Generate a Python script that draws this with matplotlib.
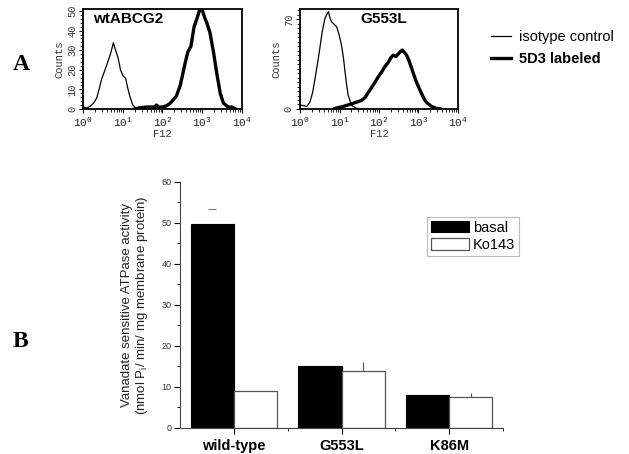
import numpy as np
import matplotlib
matplotlib.use("Agg")
import matplotlib.pyplot as plt
from matplotlib.ticker import FixedLocator, MultipleLocator, LogLocator, NullFormatter

# ---------------- data ----------------
# Flow cytometry histograms (x as log10 of F12 fluorescence, y = counts)
wt_iso_log = [0.0, 0.08, 0.17, 0.26, 0.34, 0.40, 0.46, 0.55, 0.63, 0.70, 0.76, 0.80, 0.88,
              0.94, 1.00, 1.07, 1.12, 1.17, 1.25, 1.33, 1.45, 1.6, 1.8, 2.0, 2.2]
wt_iso_cnt = [1, 0.5, 1.3, 3, 5.6, 10, 15, 20, 24.6, 29, 33.8, 31, 26,
              20, 17, 15.6, 11, 7, 2, 0.5, 0, 0.5, 0.3, 0.5, 0]
wt_5d3_log = [1.3, 1.4, 1.6, 1.8, 1.85, 1.9, 2.0, 2.11, 2.2, 2.35, 2.45, 2.52, 2.58, 2.64,
              2.72, 2.8, 2.87, 2.93, 3.0, 3.06, 3.12, 3.2, 3.29, 3.37, 3.46, 3.54, 3.66,
              3.75, 3.85]
wt_5d3_cnt = [0, 0.5, 1, 1, 2, 1, 1, 1.7, 3, 6.5, 12, 18.5, 24, 29,
              32, 42, 46, 50, 51, 47, 44, 39, 29, 18.5, 8, 3, 1,
              1, 0]
mut_iso_log = [0.0, 0.08, 0.17, 0.25, 0.32, 0.38, 0.44, 0.5, 0.56, 0.63, 0.68, 0.72, 0.76,
               0.8, 0.87, 0.93, 0.99, 1.05, 1.1, 1.14, 1.18, 1.22, 1.31, 1.43, 1.6]
mut_iso_cnt = [3, 2.7, 2, 5.3, 13, 23.7, 35, 47, 60, 70.6, 74, 76, 71,
               68, 66, 64, 58, 50, 40, 29, 19, 10.6, 2.7, 0.5, 0]
mut_5d3_log = [0.89, 1.1, 1.31, 1.45, 1.56, 1.65, 1.73, 1.82, 1.9, 1.98, 2.07, 2.15, 2.24,
               2.30, 2.36, 2.43, 2.49, 2.55, 2.59, 2.65, 2.7, 2.77, 2.83, 2.89, 2.95, 3.02,
               3.08, 3.14, 3.2, 3.27, 3.33, 3.45, 3.55]
mut_5d3_cnt = [0.5, 2, 4, 5.5, 6.7, 9, 13, 17, 21, 25, 29, 33, 36.7,
               40, 42, 41, 43, 45, 46, 44, 42, 37, 31.5, 26, 21, 16,
               12, 8, 5.3, 3.5, 2, 0.5, 0]
hist_titles = ["wtABCG2", "G553L"]
hist_legend = ["isotype control", "5D3 labeled"]
decade_labels = [r"$\mathregular{10^{0}}$", r"$\mathregular{10^{1}}$", r"$\mathregular{10^{2}}$",
                 r"$\mathregular{10^{3}}$", r"$\mathregular{10^{4}}$"]

# ATPase bar chart
groups = ["wild-type", "G553L", "K86M"]
basal = [49.7, 15.1, 8.0]
basal_err = [3.8, 0.0, 0.0]
ko143 = [9.0, 13.8, 7.6]
ko143_err = [0.0, 2.4, 0.9]
series_names = ["basal", "Ko143"]

# ---------------- figure ----------------
fig = plt.figure(figsize=(6.29, 4.54), dpi=100)
mono = "Liberation Mono"
sans = "Liberation Sans"

def hist_axes(rect, iso_log, iso_cnt, l5_log, l5_cnt, ymax, ymajor, yminor, title, title_x):
    ax = fig.add_axes(rect)
    l1, = ax.plot(10 ** np.array(iso_log), iso_cnt, color="black", lw=0.9)
    l2, = ax.plot(10 ** np.array(l5_log), l5_cnt, color="black", lw=2.4)
    ax.set_xscale("log")
    ax.set_xlim(1, 1e4)
    ax.set_ylim(0, ymax)
    ax.xaxis.set_major_locator(FixedLocator([1, 10, 100, 1000, 10000]))
    ax.set_xticklabels(decade_labels, fontfamily=mono, fontsize=8, color="#222222")
    ax.xaxis.set_minor_locator(LogLocator(base=10, subs=np.arange(2, 10), numticks=20))
    ax.xaxis.set_minor_formatter(NullFormatter())
    ax.yaxis.set_major_locator(FixedLocator(ymajor))
    ax.yaxis.set_minor_locator(MultipleLocator(yminor))
    for lab in ax.get_yticklabels():
        lab.set_fontfamily(mono)
        lab.set_fontsize(7.5)
        lab.set_rotation(90)
        lab.set_va("center")
        lab.set_color("#333333")
    ax.tick_params(axis="both", which="major", direction="out", length=3, width=0.8, pad=1.5)
    ax.tick_params(axis="both", which="minor", direction="out", length=2, width=0.6)
    for s in ax.spines.values():
        s.set_linewidth(1.3)
    ax.set_xlabel("F12", fontfamily=mono, fontsize=7.5, labelpad=0, color="#333333")
    ax.set_ylabel("Counts", fontfamily=mono, fontsize=7.5, labelpad=2, color="#333333")
    ax.text(title_x, 0.9, title, transform=ax.transAxes, fontfamily=sans,
            fontweight="bold", fontsize=11, ha="left", va="center")
    return ax, l1, l2

ax1, h1, h2 = hist_axes([0.1324, 0.760, 0.2517, 0.220], wt_iso_log, wt_iso_cnt,
                        wt_5d3_log, wt_5d3_cnt, 51, [0, 10, 20, 30, 40, 50], 2,
                        hist_titles[0], 0.06)
ax2, _, _ = hist_axes([0.477, 0.760, 0.251, 0.220], mut_iso_log, mut_iso_cnt,
                      mut_5d3_log, mut_5d3_cnt, 78, [0, 70], 3.5,
                      hist_titles[1], 0.38)

leg1 = fig.legend([h1, h2], hist_legend, loc="upper left", bbox_to_anchor=(0.759, 0.962),
                  frameon=False, handlelength=1.4, handletextpad=0.55, labelspacing=0.5,
                  prop={"family": sans, "size": 10.5})
leg1.get_texts()[1].set_fontweight("bold")

fig.text(0.02, 0.858, "A", fontfamily="Liberation Serif", fontweight="bold", fontsize=17,
         ha="left", va="center")
fig.text(0.02, 0.247, "B", fontfamily="Liberation Serif", fontweight="bold", fontsize=17,
         ha="left", va="center")

# bar chart
axb = fig.add_axes([0.2862, 0.0573, 0.5135, 0.5419])
x = np.arange(1, len(groups) + 1)
w = 0.4
b1 = axb.bar(x - w / 2, basal, width=w, color="black", edgecolor="black", linewidth=0.8,
             label=series_names[0])
b2 = axb.bar(x + w / 2, ko143, width=w, color="white", edgecolor="#555555", linewidth=0.9,
             label=series_names[1])
be = np.array(basal_err)
ke = np.array(ko143_err)
mb = be > 0
mk = ke > 0
eb1 = axb.errorbar((x - w / 2)[mb], np.array(basal)[mb], yerr=[np.zeros(mb.sum()), be[mb]],
                   fmt="none", ecolor="#777777", elinewidth=0, capsize=3, capthick=0.8)
# hide the zero-length lower cap (sits on top of the bar)
for cl in eb1[1]:
    if np.allclose(cl.get_ydata(), np.array(basal)[mb]):
        cl.set_visible(False)
axb.errorbar((x + w / 2)[mk], np.array(ko143)[mk], yerr=[np.zeros(mk.sum()), ke[mk]],
             fmt="none", ecolor="#555555", elinewidth=0.8, capsize=0)
axb.set_xlim(0.5, 3.5)
axb.set_ylim(0, 60)
axb.set_xticks(x)
axb.set_xticklabels(groups, fontfamily=sans, fontweight="bold", fontsize=10.5)
axb.xaxis.set_minor_locator(FixedLocator([1.5, 2.5, 3.5]))
axb.yaxis.set_major_locator(MultipleLocator(10))
axb.yaxis.set_minor_locator(MultipleLocator(5))
for lab in axb.get_yticklabels():
    lab.set_fontfamily(sans)
    lab.set_fontsize(6.5)
    lab.set_color("#333333")
axb.tick_params(axis="both", which="major", direction="out", length=4, width=0.8, pad=2)
axb.tick_params(axis="both", which="minor", direction="out", length=2.5, width=0.6)
axb.tick_params(axis="x", which="major", pad=4)
axb.spines["top"].set_visible(False)
axb.spines["right"].set_visible(False)
axb.spines["left"].set_color("#444444")
axb.spines["bottom"].set_color("#444444")
axb.set_ylabel("Vanadate sensitive ATPase activity\n"
               r"(nmol $\mathregular{P_{i}}$/ min/ mg membrane protein)",
               fontfamily=sans, fontsize=9.5, labelpad=8, linespacing=1.1, color="#222222")
leg2 = axb.legend(loc="upper left", bbox_to_anchor=(0.765, 0.858), borderaxespad=0,
                  fancybox=False, edgecolor="#aaaaaa", handlelength=2.6, handleheight=0.85,
                  handletextpad=0.3, labelspacing=0.25, borderpad=0.25,
                  prop={"family": sans, "size": 10.5})
leg2.get_frame().set_linewidth(0.8)

fig.savefig("out.png", dpi=100)
